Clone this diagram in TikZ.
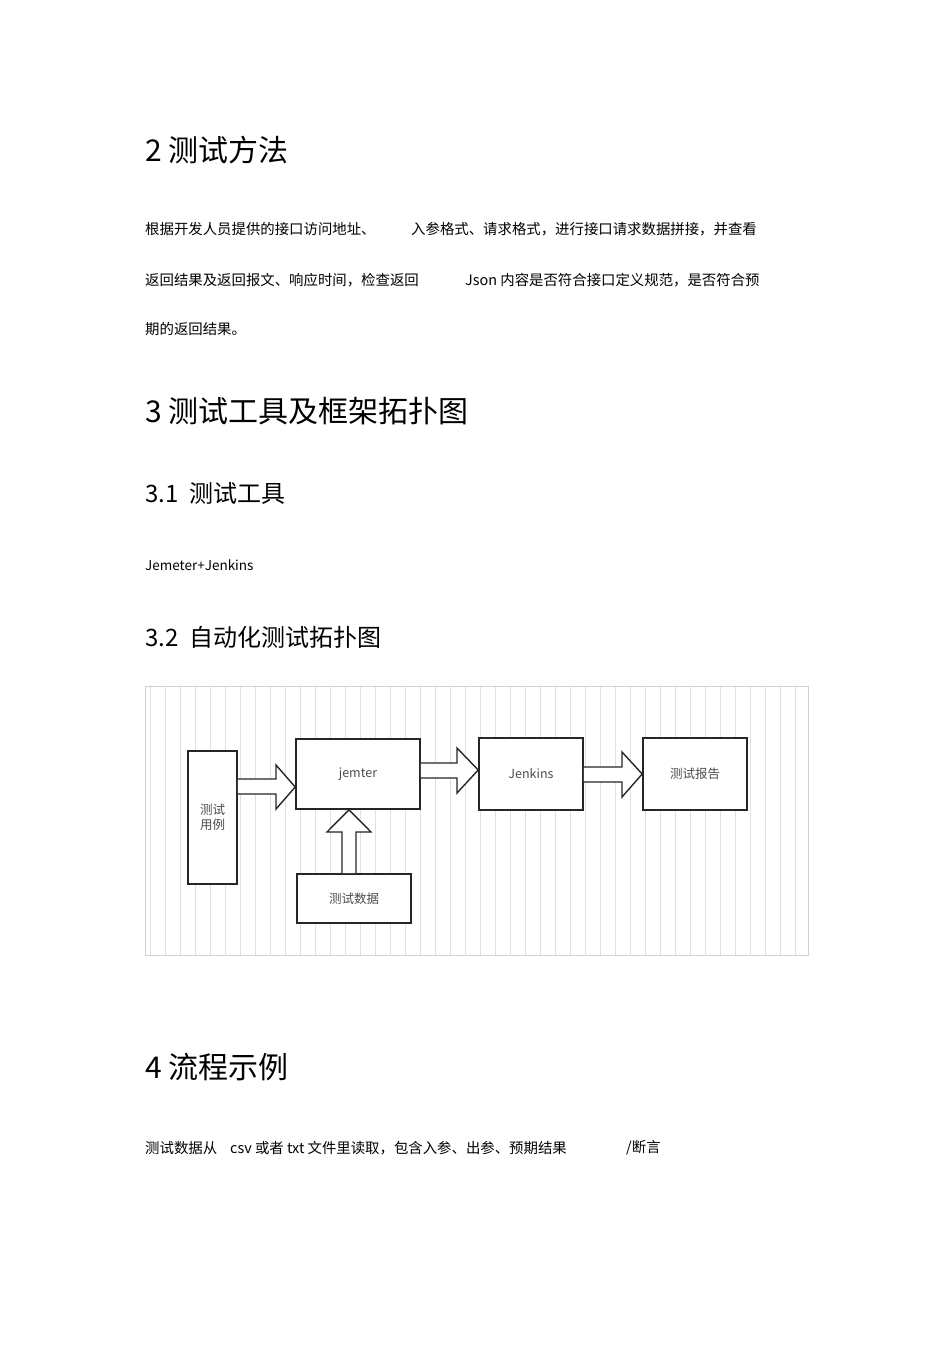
\documentclass[tikz,border=0pt]{standalone}
\usepackage{fontspec}
\setmainfont{Noto Sans CJK SC}
\begin{document}
\begin{tikzpicture}[x=1pt,y=-1pt,
  txt/.style={anchor=west,inner sep=0pt,font=\fontsize{14.4}{16}\selectfont},
  hA/.style={anchor=west,inner sep=0pt,font=\fontsize{30}{34}\selectfont},
  hB/.style={anchor=west,inner sep=0pt,font=\fontsize{24}{28}\selectfont},
  box/.style={draw=black!85,line width=1.6pt,fill=white},
  blk/.style={draw=black!85,line width=1.4pt,fill=white,line join=miter},
  lbl/.style={inner sep=0pt,text=black!70,font=\fontsize{12.5}{15}\selectfont}]
\useasboundingbox (0,0) rectangle (950,1345);
\fill[white] (0,0) rectangle (950,1345);
\node[hA] (h2) at (145,150) {2 测试方法};
\node[txt] (p1a) at (145,229) {根据开发人员提供的接口访问地址、};
\node[txt] (p1b) at (411,229) {入参格式、请求格式，进行接口请求数据拼接，并查看};
\node[txt] (p2a) at (145,280) {返回结果及返回报文、响应时间，检查返回};
\node[txt] (p2b) at (465,280) {Json 内容是否符合接口定义规范，是否符合预};
\node[txt] (p3) at (145,329) {期的返回结果。};
\node[hA] (h3) at (145,411) {3 测试工具及框架拓扑图};
\node[hB] (h31) at (145,493) {3.1\ \ 测试工具};
\node[txt,font=\fontsize{13.5}{16}\selectfont] (jj) at (145,565) {Jemeter+Jenkins};
\node[hB] (h32) at (145,637) {3.2\ \ 自动化测试拓扑图};
% grid
\begin{scope}
\clip (145,686) rectangle (808,955);
\draw[black!12,line width=0.6pt,step=15] (145,686) grid (808,955);
\end{scope}
\draw[black!18,line width=0.6pt] (145,686) rectangle (808,955);
% boxes
\node[box,minimum width=49,minimum height=133,inner sep=0pt] (case) at (212.5,817.5) {};
\node[lbl,align=center] (caset) at (212.5,817) {测试\\用例};
\node[box,minimum width=124,minimum height=70] (jm) at (358,774) {};
\node[lbl] (jmt) at (358,774) {jemter};
\node[box,minimum width=104,minimum height=72] (jk) at (531,774) {};
\node[lbl] (jkt) at (531,774) {Jenkins};
\node[box,minimum width=104,minimum height=72] (rp) at (695,774) {};
\node[lbl] (rpt) at (695,774) {测试报告};
\node[box,minimum width=114,minimum height=49] (dt) at (354,898.5) {};
\node[lbl] (dtt) at (354,898.5) {测试数据};
% block arrows
\draw[blk] (case.east |- 0,779) -- (276,779) -- (276,765) -- (jm.west |- 0,787) -- (276,809) -- (276,794) -- (case.east |- 0,794);
\draw[blk] (jm.east |- 0,763) -- (457,763) -- (457,748) -- (jk.west |- 0,770) -- (457,793) -- (457,778) -- (jm.east |- 0,778);
\draw[blk] (jk.east |- 0,767) -- (622,767) -- (622,752) -- (rp.west |- 0,774) -- (622,797) -- (622,782) -- (jk.east |- 0,782);
\draw[blk] (342,0 |- dt.north) -- (342,832) -- (327,832) -- (349,0 |- jm.south) -- (371,832) -- (356,832) -- (356,0 |- dt.north);
\node[hA] (h4) at (145,1067) {4 流程示例};
\node[txt] (q1) at (145,1148) {测试数据从};
\node[txt] (q2) at (230,1148) {csv 或者 txt 文件里读取，包含入参、出参、预期结果};
\node[txt] (q3) at (626,1148) {/断言};
\end{tikzpicture}
\end{document}
